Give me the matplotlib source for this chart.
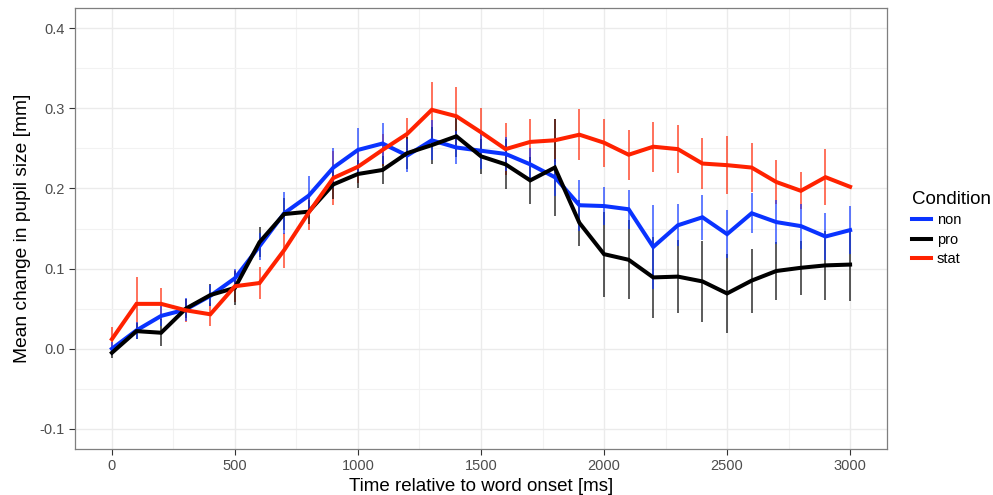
import matplotlib
matplotlib.use("Agg")
import matplotlib.pyplot as plt
import numpy as np

plt.rcParams['font.family'] = ['Liberation Sans', 'DejaVu Sans']

time_ms = [0, 100, 200, 300, 400, 500, 600, 700, 800, 900, 1000, 1100, 1200, 1300, 1400, 1500,
           1600, 1700, 1800, 1900, 2000, 2100, 2200, 2300, 2400, 2500, 2600, 2700, 2800, 2900, 3000]

non_mean = [0.000, 0.023, 0.041, 0.049, 0.066, 0.088, 0.128, 0.169, 0.191, 0.226, 0.248, 0.256, 0.241,
            0.260, 0.251, 0.247, 0.243, 0.230, 0.214, 0.179, 0.178, 0.174, 0.127, 0.154, 0.164, 0.143,
            0.169, 0.158, 0.153, 0.140, 0.148]
non_err = [0.008, 0.011, 0.012, 0.014, 0.013, 0.012, 0.017, 0.026, 0.024, 0.025, 0.027, 0.026, 0.021,
           0.025, 0.021, 0.023, 0.021, 0.020, 0.023, 0.032, 0.024, 0.024, 0.052, 0.026, 0.028, 0.030,
           0.025, 0.027, 0.028, 0.029, 0.030]

pro_mean = [-0.005, 0.022, 0.020, 0.050, 0.067, 0.076, 0.133, 0.168, 0.171, 0.205, 0.218, 0.223, 0.244,
            0.254, 0.265, 0.240, 0.230, 0.210, 0.226, 0.157, 0.118, 0.111, 0.089, 0.090, 0.084, 0.069,
            0.085, 0.097, 0.101, 0.104, 0.105]
pro_err = [0.007, 0.010, 0.017, 0.012, 0.014, 0.021, 0.019, 0.020, 0.015, 0.018, 0.018, 0.018, 0.020,
           0.023, 0.026, 0.022, 0.031, 0.029, 0.060, 0.029, 0.053, 0.049, 0.051, 0.046, 0.051, 0.049,
           0.040, 0.036, 0.034, 0.043, 0.045]

stat_mean = [0.012, 0.056, 0.056, 0.048, 0.043, 0.078, 0.082, 0.123, 0.170, 0.213, 0.227, 0.248, 0.268,
             0.298, 0.290, 0.270, 0.249, 0.258, 0.260, 0.267, 0.257, 0.242, 0.252, 0.249, 0.231, 0.229,
             0.226, 0.208, 0.197, 0.214, 0.202]
stat_err = [0.015, 0.033, 0.020, 0.014, 0.014, 0.020, 0.020, 0.022, 0.022, 0.034, 0.020, 0.020, 0.020,
            0.035, 0.036, 0.030, 0.032, 0.028, 0.027, 0.032, 0.030, 0.031, 0.031, 0.030, 0.032, 0.036,
            0.031, 0.027, 0.023, 0.035, 0.0]

conditions = ["non", "pro", "stat"]
colors = {"non": "#0a33ff", "pro": "#000000", "stat": "#ff2200"}
means = {"non": non_mean, "pro": pro_mean, "stat": stat_mean}
errs = {"non": non_err, "pro": pro_err, "stat": stat_err}

fig = plt.figure(figsize=(9.93, 4.95), dpi=100)
ax = fig.add_axes([75/993, 1-449/495, (887-75)/993, (449-8)/495])

t = np.array(time_ms)
# error bars (drawn stat, pro, non)
for i, c in enumerate(["stat", "pro", "non"]):
    m = np.array(means[c]); e = np.array(errs[c])
    ax.vlines(t, m - e, m + e, color=colors[c], alpha=0.75, linewidth=1.2, zorder=2 + i * 0.1)
# lines
for i, c in enumerate(conditions):
    ax.plot(t, means[c], color=colors[c], linewidth=2.9, solid_joinstyle='miter',
            label=c, zorder=3 + i * 0.1)

ax.set_xlim(-150, 3150)
ax.set_ylim(-0.125, 0.425)
ax.set_xticks([0, 500, 1000, 1500, 2000, 2500, 3000])
ax.set_xticks([250, 750, 1250, 1750, 2250, 2750], minor=True)
ax.set_yticks([-0.1, 0.0, 0.1, 0.2, 0.3, 0.4])
ax.set_yticklabels(["-0.1", "0.0", "0.1", "0.2", "0.3", "0.4"])
ax.set_yticks([-0.05, 0.05, 0.15, 0.25, 0.35], minor=True)

ax.grid(True, which='major', color='#ebebeb', linewidth=1.0, zorder=0)
ax.grid(True, which='minor', color='#f2f2f2', linewidth=0.8, zorder=0)
ax.set_axisbelow(True)
for s in ax.spines.values():
    s.set_color('#7f7f7f')
    s.set_linewidth(0.9)
ax.tick_params(which='major', length=4, color='#333333', labelsize=10.5, labelcolor='#4d4d4d', width=0.8)
ax.tick_params(which='minor', length=0)

ax.set_xlabel("Time relative to word onset [ms]", fontsize=13.5, labelpad=3)
ax.set_ylabel("Mean change in pupil size [mm]", fontsize=13.8, labelpad=6)

leg = ax.legend(title="Condition", loc='center left', bbox_to_anchor=(1.018, 0.5), frameon=False,
                fontsize=10.5, title_fontsize=13.5, handlelength=1.3, handletextpad=0.4,
                labelspacing=0.37, borderaxespad=0.3)
leg._legend_box.align = "left"

fig.savefig("out.png", dpi=100)
